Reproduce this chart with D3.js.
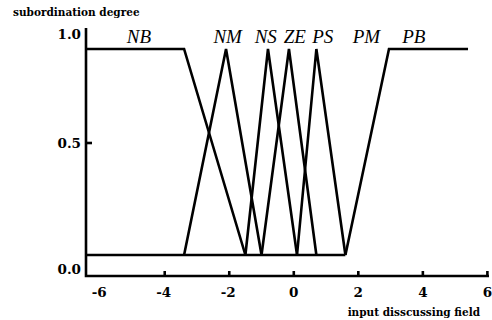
<!DOCTYPE html>
<html>
<head>
<meta charset="utf-8">
<script src="https://cdn.jsdelivr.net/npm/d3@7/dist/d3.min.js"></script>
<style>
  body { margin: 0; background: #fff; }
  svg { display: block; }
  .mf { fill: none; stroke: #000; stroke-width: 2.6; stroke-linejoin: miter; }
  .ax { stroke: #000; stroke-width: 2.6; fill: none; }
  .num { font-family: "DejaVu Serif", serif; font-weight: bold; font-size: 13.5px; }
  .ttl { font-family: "DejaVu Serif", serif; font-weight: bold; font-size: 10.5px; }
  .lbl { font-family: "Liberation Serif", serif; font-style: italic; font-size: 19px; }
</style>
</head>
<body>
<svg id="chart" width="492" height="320"></svg>
<script>
// membership functions: [input, degree] corner points
const nbPoints = [[-6.44, 1], [-3.4, 1], [-1.5, 0]];
const nmPoints = [[-3.4, 0], [-2.1, 1], [-1.0, 0]];
const nsPoints = [[-1.5, 0], [-0.8, 1], [0.1, 0]];
const zePoints = [[-1.0, 0], [-0.15, 1], [0.7, 0]];
const psPoints = [[0.1, 0], [0.7, 1], [1.6, 0]];
const pbPoints = [[1.6, 0], [2.95, 1], [5.4, 1]];
const zeroLine = [[-6.44, 0], [1.6, 0]];

const setNames = ["NB", "NM", "NS", "ZE", "PS", "PM", "PB"];
const setLabelX = [-4.8, -2.05, -0.87, 0.03, 0.9, 2.25, 3.72];

const xTicks = [-6, -4, -2, 0, 2, 4, 6];
const xTickMarks = [-4, -2, 0, 2, 4, 6];
const yTicks = [0, 0.5, 1];
const yTickLabels = ["0.0", "0.5", "1.0"];

const svg = d3.select("#chart");

const x = d3.scaleLinear().domain([-6.44, 6.05]).range([86, 489]);
const y = d3.scaleLinear().domain([0, 1]).range([255, 49]);
// label axis of the scan is not quite linear
const yAxisScale = d3.scaleLinear().domain([0, 0.5, 1]).range([269, 143, 34]);

const line = d3.line().x(d => x(d[0])).y(d => y(d[1]));

// axes
const axisY = 276;
svg.append("path").attr("class", "ax")
  .attr("d", `M${x(-6.44)},28 V${axisY} H${x(6.05)}`);

svg.selectAll(".xtick").data(xTickMarks).join("line")
  .attr("class", "ax xtick")
  .attr("x1", d => x(d)).attr("x2", d => x(d))
  .attr("y1", axisY).attr("y2", axisY - 5);

svg.selectAll(".xlab").data(xTicks).join("text")
  .attr("class", "num xlab")
  .attr("x", d => x(d) + (d < 0 ? -1 : 0))
  .attr("y", 297)
  .attr("text-anchor", "middle")
  .text(d => d);

svg.append("line").attr("class", "ax")
  .attr("x1", x(-6.44)).attr("x2", x(-6.44) + 6)
  .attr("y1", yAxisScale(0.5)).attr("y2", yAxisScale(0.5));

svg.selectAll(".ylab").data(yTicks).join("text")
  .attr("class", "num ylab")
  .attr("x", 81)
  .attr("y", d => yAxisScale(d) + 5)
  .attr("text-anchor", "end")
  .text((d, i) => yTickLabels[i]);

svg.append("text").attr("class", "ttl")
  .attr("x", 13).attr("y", 16)
  .text("subordination degree");

svg.append("text").attr("class", "ttl")
  .attr("x", 480).attr("y", 316)
  .attr("text-anchor", "end")
  .text("input disscussing field");

// membership functions
[zeroLine, nbPoints, nmPoints, nsPoints, zePoints, psPoints, pbPoints].forEach(p => {
  svg.append("path").attr("class", "mf").attr("d", line(p));
});

svg.selectAll(".lbl").data(setNames).join("text")
  .attr("class", "lbl")
  .attr("x", (d, i) => x(setLabelX[i]))
  .attr("y", 43)
  .attr("text-anchor", "middle")
  .text(d => d);
</script>
</body>
</html>
